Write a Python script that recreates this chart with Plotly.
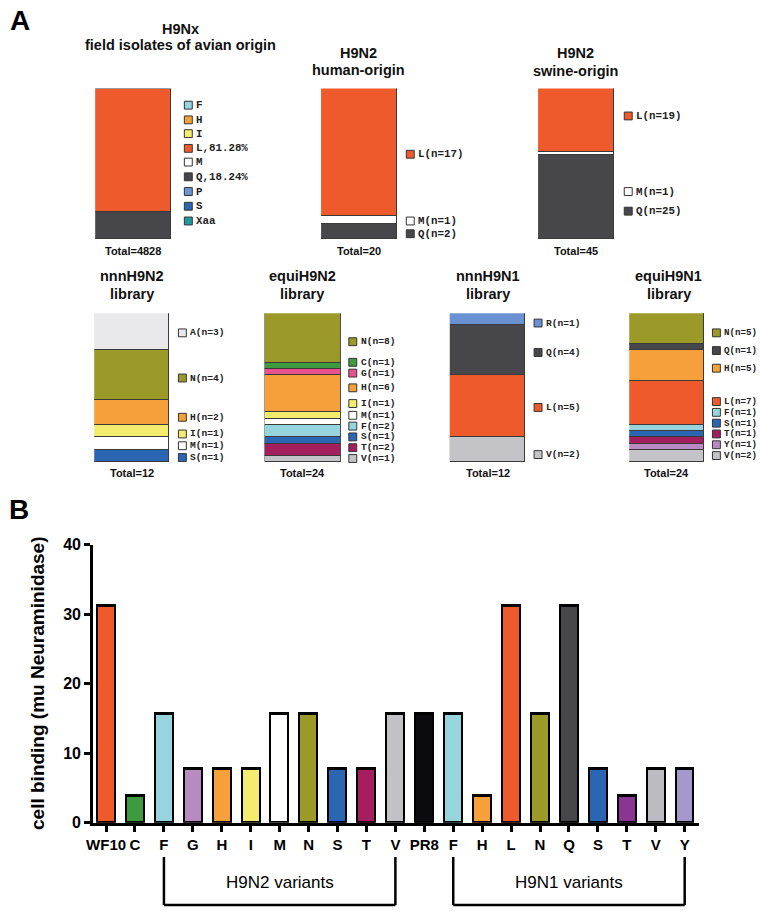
import plotly.graph_objects as go

# ---- panel A: residue composition, listed top of stack first ----
avian_res = ["F", "H", "I", "L", "M", "Q", "P", "S", "Xaa"]
avian_pct = [0, 0, 0, 81.28, 0, 18.24, 0, 0, 0]
avian_total = 4828

human_res = ["L", "M", "Q"]
human_n = [17, 1, 2]

swine_res = ["L", "M", "Q"]
swine_n = [19, 1, 25]

nnn_n2_res = ["A", "N", "H", "I", "M", "S"]
nnn_n2_n = [3, 4, 2, 1, 1, 1]

equi_n2_res = ["N", "C", "G", "H", "I", "M", "F", "S", "T", "V"]
equi_n2_n = [8, 1, 1, 6, 1, 1, 2, 1, 2, 1]

nnn_n1_res = ["R", "Q", "L", "V"]
nnn_n1_n = [1, 4, 5, 2]

equi_n1_res = ["N", "Q", "H", "L", "F", "S", "T", "Y", "V"]
equi_n1_n = [5, 1, 5, 7, 1, 1, 1, 1, 2]

# ---- panel B: cell binding ----
bind_labels = ["WF10", "C", "F", "G", "H", "I", "M", "N", "S", "T", "V",
               "PR8", "F", "H", "L", "N", "Q", "S", "T", "V", "Y"]
bind_values = [31.25, 3.9, 15.6, 7.8, 7.8, 7.8, 15.6, 15.6, 7.8, 7.8, 15.6,
               15.6, 15.6, 3.9, 31.25, 15.6, 31.25, 7.8, 3.9, 7.8, 7.8]
groups = [("H9N2 variants", 2, 10), ("H9N1 variants", 12, 20)]

# colours
res_color = {
    "F": "#96D5DE", "H": "#F6A03C", "I": "#F4EC6C", "L": "#EE5A2B",
    "M": "#FFFFFF", "Q": "#47474B", "P": "#6C95D2", "S": "#2B66B2",
    "Xaa": "#1E9C9C", "A": "#E9E9EC", "N": "#9B9A28", "C": "#3E9A3E",
    "G": "#E9528C", "T": "#A21E5C", "V": "#C4C4C8", "R": "#6A92D2",
    "Y": "#B98AC2",
}
bind_colors = ["#EE5A2B", "#3E9A3E", "#96D5DE", "#B98AC2", "#F6A03C", "#F4EC6C",
               "#FFFFFF", "#9B9A28", "#2B66B2", "#A51E5E", "#C2C2C6", "#0B0B0D",
               "#96D5DE", "#F6A03C", "#EE5A2B", "#9B9A28", "#47474B", "#2B66B2",
               "#8B3592", "#BCBCC0", "#A598CC"]

W, H = 760, 918
SANS = "Liberation Sans, Arial, Helvetica, sans-serif"
MONO = "Liberation Mono, Courier New, monospace"


def px(x):
    return x / W


def py(y):
    return 1 - y / H


# layout of the seven small stacked bars (pixel boxes etc.)
charts = [
    dict(title=["H9Nx", "field isolates of avian origin"], res=avian_res, val=avian_pct,
         labels=["F", "H", "I", "L,81.28%", "M", "Q,18.24%", "P", "S", "Xaa"],
         total=avian_total, ymax=100, box=(89, 166, 82, 236), cx=175, ty=(21, 38),
         sw=179, leg=[99, 114, 128, 143, 157, 172, 187, 202, 217], fs=10.8, toty=248),
    dict(title=["H9N2", "human-origin"], res=human_res, val=human_n,
         box=(317, 394, 82, 236), cx=355, ty=(46, 63), sw=403, leg=[149, 217, 230],
         fs=10.8, toty=248),
    dict(title=["H9N2", "swine-origin"], res=swine_res, val=swine_n,
         box=(536, 613, 82, 236), cx=574, ty=(46, 64), sw=623, leg=[110, 187, 207],
         fs=10.8, toty=248),
    dict(title=["nnnH9N2", "library"], res=nnn_n2_res, val=nnn_n2_n,
         box=(88, 164, 311, 463), cx=126, ty=(273, 291), sw=173,
         leg=[331, 377, 417, 434, 446, 458], fs=9.6, toty=474),
    dict(title=["equiH9N2", "library"], res=equi_n2_res, val=equi_n2_n,
         box=(260, 337, 311, 463), cx=298, ty=(273, 291), sw=345,
         leg=[340, 361, 372, 387, 403, 415, 426, 437, 448, 459], fs=9.6, toty=474),
    dict(title=["nnnH9N1", "library"], res=nnn_n1_res, val=nnn_n1_n,
         box=(447, 523, 311, 463), cx=485, ty=(273, 291), sw=532,
         leg=[321, 351, 407, 455], fs=9.6, toty=474),
    dict(title=["equiH9N1", "library"], res=equi_n1_res, val=equi_n1_n,
         box=(628, 704, 311, 463), cx=668, ty=(273, 291), sw=712,
         leg=[331, 349, 367, 401, 412, 423, 434, 445, 456], fs=9.2, toty=474),
]

fig = go.Figure()
annotations = []
shapes = []
layout_axes = {}

for k, c in enumerate(charts, start=2):
    x0, x1, y0, y1 = c["box"]
    # stack bottom-first
    for r, v in reversed(list(zip(c["res"], c["val"]))):
        if v <= 0:
            continue
        fig.add_trace(go.Bar(
            x=[0], y=[v], width=1, xaxis=f"x{k}", yaxis=f"y{k}",
            marker=dict(color=res_color[r], line=dict(color="#3a3a3a", width=1)),
            showlegend=False, hoverinfo="skip",
        ))
    ymax = c.get("ymax", sum(c["val"]))
    layout_axes[f"xaxis{k}"] = dict(domain=[px(x0), px(x1)], range=[-0.5, 0.5],
                                    visible=False, fixedrange=True, anchor=f"y{k}")
    layout_axes[f"yaxis{k}"] = dict(domain=[py(y1), py(y0)], range=[0, ymax],
                                    visible=False, fixedrange=True, anchor=f"x{k}")

    # titles
    for line, ty in zip(c["title"], c["ty"]):
        annotations.append(dict(text=f"<b>{line}</b>", x=px(c["cx"]), y=py(ty),
                                xref="paper", yref="paper", xanchor="center",
                                yanchor="middle", showarrow=False,
                                font=dict(family=SANS, size=14.5, color="#111")))
    total = c.get("total", sum(c["val"]))
    annotations.append(dict(text=f"<b>Total={total}</b>", x=px((x0 + x1) / 2), y=py(c["toty"]),
                            xref="paper", yref="paper", xanchor="center", yanchor="middle",
                            showarrow=False, font=dict(family=SANS, size=11, color="#111")))

    # legend swatches
    labels = c.get("labels", [f"{r}(n={v})" for r, v in zip(c["res"], c["val"])])
    for r, lab, ly in zip(c["res"], labels, c["leg"]):
        shapes.append(dict(type="rect", xref="paper", yref="paper",
                           x0=px(c["sw"]), x1=px(c["sw"] + 8), y0=py(ly + 4), y1=py(ly - 4),
                           fillcolor=res_color[r], line=dict(color="#333", width=1)))
        annotations.append(dict(text=f"<b>{lab}</b>", x=px(c["sw"] + 11), y=py(ly),
                                xref="paper", yref="paper", xanchor="left", yanchor="middle",
                                showarrow=False, borderpad=0,
                                font=dict(family=MONO, size=c["fs"], color="#222")))

# panel B
xs = list(range(len(bind_labels)))
fig.add_trace(go.Bar(
    x=xs, y=bind_values, width=0.62, xaxis="x", yaxis="y",
    marker=dict(color=bind_colors, line=dict(color="black", width=2.5)),
    showlegend=False,
    hovertext=bind_labels,
))

for name, a, b in groups:
    for xa_, xb_, ya_, yb_ in [(a, a, 865, 914), (a, b, 914, 914), (b, b, 865, 914)]:
        shapes.append(dict(type="line", xref="x", yref="paper", x0=xa_, x1=xb_,
                           y0=py(ya_), y1=py(yb_), line=dict(color="black", width=2.5)))
    annotations.append(dict(text=name, x=(a + b) / 2, y=py(891), xref="x", yref="paper",
                            xanchor="center", yanchor="middle", showarrow=False,
                            font=dict(family=SANS, size=17, color="black")))

annotations.append(dict(text="<b>cell binding (mu Neuraminidase)</b>", x=px(31), y=py(688),
                        xref="paper", yref="paper", textangle=-90, showarrow=False,
                        xanchor="center", yanchor="middle",
                        font=dict(family=SANS, size=19, color="black")))

# panel letters
annotations.append(dict(text="<b>A</b>", x=px(1), y=py(13), xref="paper", yref="paper",
                        xanchor="left", yanchor="middle", showarrow=False,
                        font=dict(family=SANS, size=28, color="black")))
annotations.append(dict(text="<b>B</b>", x=px(0), y=py(511), xref="paper", yref="paper",
                        xanchor="left", yanchor="middle", showarrow=False,
                        font=dict(family=SANS, size=28, color="black")))

fig.update_layout(
    width=W, height=H,
    margin=dict(l=0, r=0, t=0, b=0),
    paper_bgcolor="white", plot_bgcolor="white",
    barmode="stack", bargap=0,
    showlegend=False,
    xaxis=dict(domain=[px(87), px(698)], range=[-0.445, 20.48],
               tickvals=xs, ticktext=[f"<b>{l}</b>" for l in bind_labels],
               ticks="outside", ticklen=6, tickwidth=2.5, tickcolor="black",
               showline=True, linewidth=3, linecolor="black",
               showgrid=False, zeroline=False, fixedrange=True,
               tickfont=dict(family=SANS, size=15, color="black"), anchor="y"),
    yaxis=dict(domain=[py(830), py(547)], range=[0, 40],
               tickvals=[0, 10, 20, 30, 40],
               ticktext=[f"<b>{v}</b>" for v in [0, 10, 20, 30, 40]],
               ticks="outside", ticklen=6, tickwidth=3, tickcolor="black",
               showline=True, linewidth=3, linecolor="black",
               showgrid=False, zeroline=False, fixedrange=True,
               tickfont=dict(family=SANS, size=16, color="black"), anchor="x"),
    annotations=annotations,
    shapes=shapes,
    **layout_axes,
)

# the page's default body margin would push the 760x918 figure out of the window
fig.write_html("out.html", config={"displayModeBar": False},
               post_script="document.body.style.margin='0';document.body.style.overflow='hidden';")
